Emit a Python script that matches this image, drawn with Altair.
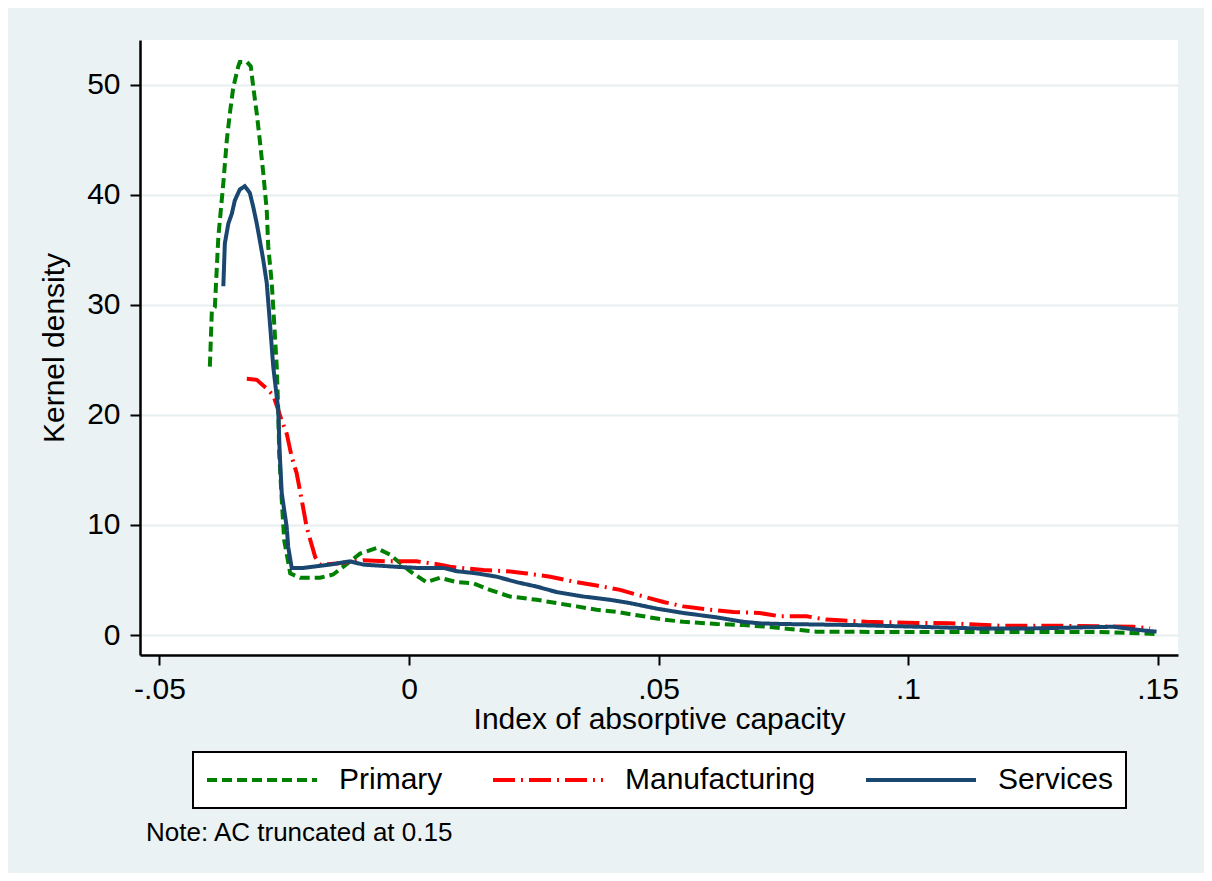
import altair as alt
import pandas as pd

series_names = ["Primary", "Manufacturing", "Services"]

primary_x = [-0.0399, -0.0395, -0.0389, -0.0382, -0.0372, -0.0365, -0.0359, -0.0352, -0.0342, -0.0339,
             -0.0325, -0.0317, -0.0312, -0.0305, -0.0299, -0.0292, -0.0285, -0.0282, -0.0275, -0.0272,
             -0.0265, -0.0262, -0.0260, -0.0255, -0.0250, -0.0238, -0.0218, -0.0178, -0.0152, -0.0132,
             -0.0098, -0.0065, -0.0038, 0.0002, 0.0035, 0.0062, 0.0096, 0.0129, 0.0162, 0.0202,
             0.0256, 0.0296, 0.0336, 0.0376, 0.0416, 0.0470, 0.0510, 0.0550, 0.0617, 0.0670,
             0.0717, 0.0784, 0.0817, 0.0984, 0.1184, 0.1385, 0.1495]
primary_y = [24.4, 29.5, 29.8, 36.2, 41.1, 45.0, 47.4, 49.8, 51.7, 52.1,
             52.1, 51.7, 49.8, 47.4, 45.0, 42.0, 38.6, 35.3, 32.0, 29.8,
             24.4, 20.5, 16.5, 12.3, 8.6, 5.6, 5.2, 5.2, 5.5, 6.2,
             7.4, 7.9, 7.3, 5.8, 4.8, 5.2, 4.8, 4.7, 4.1, 3.5,
             3.2, 2.9, 2.6, 2.3, 2.1, 1.7, 1.4, 1.2, 1.0, 0.9,
             0.75, 0.45, 0.3, 0.27, 0.27, 0.27, 0.1]

manuf_x = [-0.0325, -0.0305, -0.0285, -0.0272, -0.0255, -0.0245, -0.0235, -0.0225, -0.0215, -0.0205,
           -0.0195, -0.0188, -0.0178, -0.0145, -0.0092, -0.0045, 0.0015, 0.0062, 0.0082, 0.0149,
           0.0196, 0.0236, 0.0283, 0.0336, 0.0376, 0.0423, 0.0470, 0.0510, 0.0550, 0.0603,
           0.0650, 0.0703, 0.0743, 0.0797, 0.0837, 0.0917, 0.1017, 0.1084, 0.1184, 0.1285,
           0.1452, 0.1485]
manuf_y = [23.3, 23.2, 22.4, 21.8, 19.5, 18.3, 16.2, 14.7, 12.3, 9.8,
           8.2, 7.1, 6.4, 6.5, 6.8, 6.7, 6.7, 6.4, 6.2, 5.9,
           5.8, 5.6, 5.3, 4.8, 4.5, 4.1, 3.5, 3.0, 2.6, 2.3,
           2.1, 2.0, 1.7, 1.7, 1.4, 1.2, 1.1, 1.06, 0.85, 0.85,
           0.75, 0.6]

serv_x = [-0.0372, -0.0369, -0.0362, -0.0355, -0.0349, -0.0339, -0.0329, -0.0319, -0.0312, -0.0305,
          -0.0299, -0.0292, -0.0285, -0.0277, -0.0272, -0.0262, -0.0259, -0.0255, -0.0245, -0.0242,
          -0.0235, -0.0212, -0.0158, -0.0118, -0.0092, -0.0025, 0.0015, 0.0069, 0.0096, 0.0136,
          0.0176, 0.0216, 0.0256, 0.0296, 0.0349, 0.0403, 0.0443, 0.0496, 0.0550, 0.0617,
          0.0670, 0.0703, 0.0750, 0.0897, 0.1138, 0.1251, 0.1411, 0.1465, 0.1498]
serv_y = [31.7, 35.6, 37.4, 38.3, 39.5, 40.5, 40.8, 40.2, 38.9, 37.4,
          35.9, 34.1, 32.0, 27.4, 24.4, 20.5, 16.5, 12.9, 9.8, 8.0,
          6.1, 6.1, 6.4, 6.7, 6.4, 6.2, 6.1, 6.1, 5.8, 5.6,
          5.3, 4.8, 4.4, 3.9, 3.5, 3.2, 2.9, 2.4, 2.0, 1.6,
          1.2, 1.06, 1.0, 0.9, 0.6, 0.6, 0.75, 0.45, 0.3]

x_ticks = [-0.05, 0, 0.05, 0.1, 0.15]
y_ticks = [0, 10, 20, 30, 40, 50]
colors = ["#008000", "#ff0000", "#1a476f"]
dashes = [[10, 5], [22, 6, 2, 6], [1, 0]]

rows = []
for name, xs, ys in zip(series_names, [primary_x, manuf_x, serv_x], [primary_y, manuf_y, serv_y]):
    for i, (a, b) in enumerate(zip(xs, ys)):
        rows.append({"x": a, "y": b, "series": name, "i": i})
df = pd.DataFrame(rows)

FONT = "Liberation Sans"

x_label_expr = ("datum.value == 0 ? '0' : "
                "replace(replace(format(datum.value, '~g'), '0.', '.'), '\u2212', '-')")

legend_kw = dict(title=None, orient="none", direction="horizontal", legendX=53, legendY=712)

chart = alt.Chart(df).mark_line(strokeWidth=4, strokeCap="butt").encode(
    x=alt.X("x:Q", scale=alt.Scale(domain=[-0.0539, 0.1541], nice=False, zero=False),
            axis=alt.Axis(values=x_ticks, title="Index of absorptive capacity", grid=False,
                          labelExpr=x_label_expr, titlePadding=0, labelPadding=9)),
    y=alt.Y("y:Q", scale=alt.Scale(domain=[-1.818, 54.09], nice=False, zero=False),
            axis=alt.Axis(values=y_ticks, title="Kernel density", grid=True,
                          titlePadding=17, labelPadding=10)),
    color=alt.Color("series:N", scale=alt.Scale(domain=series_names, range=colors),
                    legend=alt.Legend(**legend_kw)),
    strokeDash=alt.StrokeDash("series:N", scale=alt.Scale(domain=series_names, range=dashes),
                              legend=alt.Legend(**legend_kw)),
    order="i:Q",
).properties(
    width=1038, height=615,
    autosize="none",
    padding={"left": 132, "top": 32, "right": 26, "bottom": 218},
    title=alt.TitleParams("Note: AC truncated at 0.15", orient="bottom", anchor="start",
                          frame="group", fontSize=26, font=FONT, fontWeight="normal",
                          color="#000000", offset=11, dx=6),
).configure(
    background="#eaf2f3",
).configure_view(
    fill="white", stroke=None,
).configure_axis(
    labelFont=FONT, titleFont=FONT, labelFontSize=30, titleFontSize=30,
    titleFontWeight="normal", labelColor="#000000", titleColor="#000000",
    domainColor="#000000", domainWidth=2.5, tickColor="#000000", tickWidth=2, tickSize=10,
    gridColor="#e6eef0", gridWidth=2,
).configure_axisY(
    labelAngle=0,
).configure_legend(
    labelFont=FONT, labelFontSize=30, labelColor="#000000", labelLimit=0,
    symbolType="stroke", symbolSize=12100, symbolStrokeWidth=4, clipHeight=32,
    labelOffset=20, columnPadding=48, padding=12,
    strokeColor="#000000", strokeWidth=2, fillColor="white",
)

chart.save("out.html", embed_options={"renderer": "svg", "actions": False})
